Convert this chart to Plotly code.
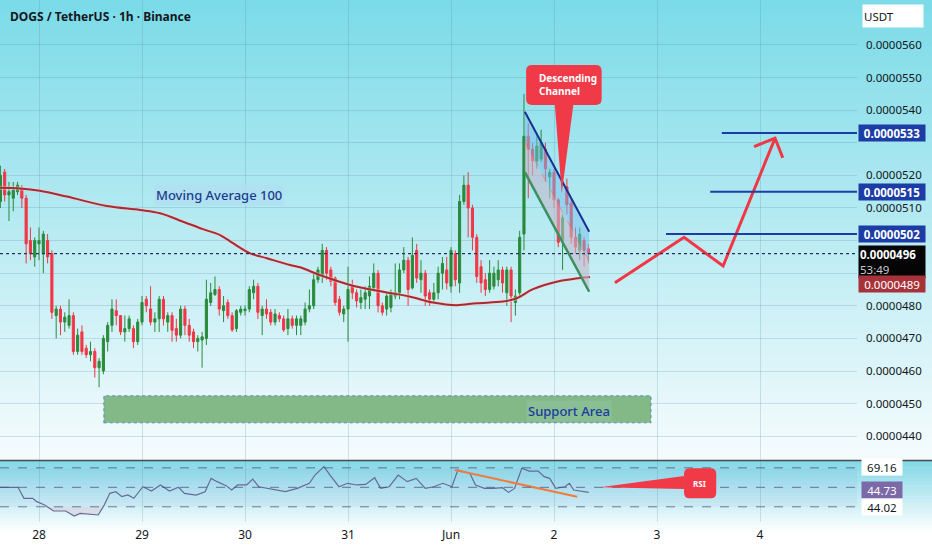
import plotly.graph_objects as go

# prices in units of 1e-7 USDT, one candle per hour, hour 0 = 28 May 00:00
candle_start_hour = -9
opens = [512, 521, 514, 513, 515, 516, 513, 500, 495, 499, 496, 500, 496, 477, 479, 475, 474, 477,
         466, 472, 467, 465, 466, 461, 460, 469, 474, 478.5, 477, 472, 473, 473, 469, 475, 482, 479,
         475, 476, 482, 475, 477, 473, 471, 479, 474, 472, 469, 469.5, 470, 481, 483.5, 485, 478.5, 481,
         477, 473, 478, 478.5, 479, 484, 486, 477, 479, 478, 475, 477, 476, 473, 476, 474,
         474, 475, 479, 480, 488, 489.5, 497, 491, 488.5, 482, 477.5, 479, 486, 484, 481, 482,
         483, 485.5, 490, 480, 479, 479.5, 483, 484, 491, 494, 485.5, 497, 488, 490, 484, 482,
         484, 490, 491, 486, 496, 487, 512, 517, 510, 501, 492, 488, 485, 486, 488, 491,
         484, 491, 481, 484, 502, 532, 528, 524.5, 525, 528, 519.5, 521, 512.5, 500, 516.5, 511.5,
         501, 497, 500, 497.5]
highs = [523, 522, 518, 518, 518, 517, 514, 504, 501, 504, 503, 502, 497, 480, 480, 478, 482, 478,
         473, 474, 468, 469, 467, 464, 471, 475, 482, 482, 477, 477, 477, 474, 476, 483, 483, 486,
         478, 483, 483, 478, 478, 476, 480, 480, 476, 473, 471, 472, 488, 487, 489, 486, 483, 482,
         478, 479, 480, 480, 486, 488, 487, 480, 482, 479, 479, 478, 477, 479, 477, 477,
         477, 481, 485, 490, 492, 499, 498, 492, 489, 483, 480, 492, 488, 485, 485, 486,
         489, 493, 491, 481, 484, 485, 493, 493, 498, 495, 501, 499, 494, 491, 485, 487,
         492, 495, 495, 498, 497, 514, 520, 521, 511, 502, 494, 490, 494, 492, 494, 492,
         492, 492, 485, 503, 545, 536, 530, 532, 534, 530, 522, 522, 513, 508, 519, 513,
         504, 504, 501, 499]
lows = [510, 512, 506, 509, 514, 510, 493, 494, 492, 494, 490, 493, 476, 470, 471, 472, 473, 465,
        465, 465, 464, 463, 458, 455, 459, 466, 472, 474, 471, 469, 472, 467, 468, 474, 478, 474,
        472, 472, 474, 472, 469, 469, 470, 471, 469, 467, 466, 461, 468, 480, 483, 477, 475, 476,
        472, 472, 477, 477, 478, 482, 476, 471, 476, 474, 474, 475, 472, 471, 473, 471,
        471, 474, 478, 479, 487, 487, 488, 486, 480, 477, 475, 469, 482, 479.5, 479, 479,
        479, 485, 478, 477, 477, 478, 482, 482, 490, 480, 485, 487, 484, 480, 480, 481,
        482, 485, 485, 484, 486, 484, 511, 501, 497, 487, 484, 483, 484, 485, 486, 484,
        480, 475, 477, 483, 497, 513, 520, 522, 524, 518, 513, 510, 498, 491, 508, 499,
        496, 494, 492, 493]
closes = [520, 514, 515, 515.5, 517, 513, 499, 496, 500, 500, 502, 495, 478, 479, 475, 476.5, 477, 466,
          471, 466, 465, 466, 461, 463, 470, 474, 479, 477, 472, 473, 476, 469, 475, 481, 480, 475,
          476, 482, 476, 477, 472.5, 471, 479, 474, 471, 469, 470, 470.5, 482, 484, 485, 479, 480, 477,
          472.6, 478.5, 479, 479, 485, 486, 478, 479, 477.5, 475, 477.5, 476, 472.6, 476, 474, 476,
          476, 479, 480, 488, 491, 497, 490, 487.5, 481, 478, 479, 485, 484, 481.5, 482.5, 484,
          486, 490, 480, 478, 483, 484, 484, 491, 494, 485, 495.5, 488.5, 490, 483, 482, 484,
          490, 493, 487, 497, 488, 512, 517, 510, 501, 489, 487, 485, 490, 490, 491, 487,
          491, 483, 483, 501, 532, 528, 524.5, 529, 530, 522, 521, 512.5, 499.5, 507, 511, 501,
          498, 502, 497, 496]
hours = list(range(candle_start_hour, candle_start_hour + len(closes)))

# moving average 100
ma_hours = [-9.1, -4.4, 0.2, 6.5, 15.8, 23.5, 28.2, 33.6, 38.2, 42.2, 45.2, 49.2, 53.1, 58.5, 60.8,
            65.5, 72.5, 80.2, 86.5, 91.8, 97.3, 102.0, 108.1, 111.3, 115.1, 120.6, 124.4, 128.4]
ma_values = [516.2, 516.0, 515.3, 513.5, 510.6, 509.4, 508.4, 505.8, 503.5, 501.7, 499.2, 496.1, 494.6,
             492.5, 491.8, 489.4, 486.4, 484.3, 482.8, 481.0, 480.2, 480.8, 481.3, 482.3, 485.1, 487.4,
             488.2, 488.8]

# RSI
rsi_hours = [-9.1, -4.9, -3.5, -1.5, -0.5, 1.3, 3.4, 6.2, 8.2, 9.6, 13.8, 15.2, 16.5, 17.9, 19.3, 20.7,
             22.1, 24.2, 26.2, 28.3, 30.4, 32.5, 33.9, 36.6, 38.7, 40.1, 41.5, 43.6, 44.9, 46.3, 48.4,
             49.8, 51.2, 53.2, 55.3, 57.4, 60.2, 63.0, 64.3, 66.4, 67.8, 69.9, 71.9, 74.0, 76.1, 78.2,
             79.6, 81.6, 83.7, 85.8, 87.9, 90.0, 92.0, 94.1, 96.2, 97.6, 99.0, 100.4, 101.7, 103.8,
             105.9, 108.0, 109.4, 110.8, 112.5, 114.2, 116.3, 117.7, 119.0, 120.4, 122.5, 123.6,
             124.6, 126.0, 128.1]
rsi_values = [50.0, 50.0, 38.7, 38.7, 35.3, 31.8, 25.7, 25.7, 20.6, 23.3, 21.6, 31.8, 43.8, 45.5, 40.4,
              42.1, 38.7, 50.6, 46.2, 52.3, 46.2, 50.0, 43.8, 42.1, 45.5, 59.2, 55.8, 51.7, 47.2, 52.4,
              52.4, 58.5, 50.6, 48.9, 47.2, 45.5, 48.9, 54.1, 62.6, 71.2, 62.6, 50.6, 54.1, 52.4, 53.0,
              59.9, 48.9, 50.6, 62.6, 55.8, 59.2, 48.9, 50.6, 54.1, 50.6, 67.7, 66.0, 64.3, 52.4, 48.9,
              48.9, 49.6, 44.8, 48.9, 69.5, 66.7, 66.7, 60.9, 59.2, 48.9, 50.6, 54.1, 47.2, 46.2, 44.8]
rsi_levels = [70, 50, 30]
rsi_div_hours = [96.9, 125.4]
rsi_div_values = [67.7, 40.4]

# axes
day_hours = [0, 24, 48, 72, 96, 120, 144, 168]
day_labels = ["28", "29", "30", "31", "Jun", "2", "3", "4"]
price_ticks = [440, 450, 460, 470, 480, 490, 500, 510, 520, 530, 540, 550, 560]
hidden_price_labels = [490, 500, 530]   # covered by the price tags on the scale

# drawings
channel_hours = [113.2, 128.2]
channel_top = [539.5, 502.7]
channel_bottom = [521.0, 484.3]
support_hours = [15.1, 142.6]
support_prices = [444.1, 452.4]
targets = [533, 515, 502]
target_start_hours = [159.1, 156.4, 146.1]
projection_hours = [134.2, 150.3, 159.4, 171.5]
projection_prices = [487.1, 501.0, 492.2, 531.4]
arrowhead_hours = [166.6, 171.5, 173.3]
arrowhead_prices = [528.8, 531.4, 525.4]
last_price = 496
ma_last = 489

X_RANGE = [-9.09, 190.6]
PLOT_H = 522
GREEN = "#2a8a3b"
RED = "#f23645"
BLUE = "#1c3ca6"
TXT = "#131722"


def py(y):
    return (PLOT_H - y) / PLOT_H


def mix(c1, c2, f):
    return "rgb(%d,%d,%d)" % tuple(round(a + (b - a) * f) for a, b in zip(c1, c2))


shapes = []


def gradient(y_top, y_bot, c_top, c_bot, n=40):
    for i in range(n):
        a = y_top + (y_bot - y_top) * i / n
        b = y_top + (y_bot - y_top) * (i + 1) / n + 0.6
        shapes.append(dict(type="rect", xref="paper", yref="paper", x0=-0.01, x1=1.1,
                           y0=py(b), y1=py(a), fillcolor=mix(c_top, c_bot, i / (n - 1)),
                           line=dict(width=0), layer="below"))


gradient(0, 460, (124, 219, 232), (244, 251, 253))
gradient(460, 532, (132, 216, 231), (252, 254, 255), 20)

# rsi band
shapes.append(dict(type="rect", xref="paper", yref="y2", x0=0, x1=1, y0=30, y1=70,
                   fillcolor="rgba(110,130,210,0.07)", line=dict(width=0), layer="below"))
for lv in rsi_levels:
    shapes.append(dict(type="line", xref="paper", yref="y2", x0=0, x1=1, y0=lv, y1=lv,
                       line=dict(color="rgba(70,80,120,0.75)", width=1, dash="dash")))

# pane separator
shapes.append(dict(type="line", xref="paper", yref="paper", x0=0, x1=1.1, y0=py(460.5), y1=py(460.5),
                   line=dict(color="#4a4a4a", width=1.6)))

# support area
shapes.append(dict(type="rect", xref="x", yref="y", x0=support_hours[0], x1=support_hours[1],
                   y0=support_prices[0], y1=support_prices[1], fillcolor="#82b987",
                   line=dict(color="rgba(60,110,200,0.7)", width=1, dash="dot")))

# current price dotted line
shapes.append(dict(type="line", xref="paper", yref="y", x0=0, x1=1, y0=last_price, y1=last_price,
                   line=dict(color="#27315a", width=1.2, dash="dot")))

# target levels
for lvl, h0 in zip(targets, target_start_hours):
    shapes.append(dict(type="line", xref="x", yref="y", x0=h0, x1=X_RANGE[1], y0=lvl, y1=lvl,
                       line=dict(color=BLUE, width=2)))


def rounded_callout(x0, x1, y0, y1, rx, ry, pointer):
    p = "M %f,%f L %f,%f Q %f,%f %f,%f L %f,%f Q %f,%f %f,%f " % (
        x0 + rx, y1, x1 - rx, y1, x1, y1, x1, y1 - ry, x1, y0 + ry, x1, y0, x1 - rx, y0)
    p += pointer
    p += "L %f,%f Q %f,%f %f,%f L %f,%f Q %f,%f %f,%f Z" % (
        x0 + rx, y0, x0, y0, x0, y0 + ry, x0, y1 - ry, x0, y1, x0 + rx, y1)
    return p


# "Descending Channel" callout (box with pointer down)
dc = rounded_callout(113.5, 131.1, 541.6, 553.9, 1.4, 1.8,
                     "L 124.5,541.6 L 121.8,514.5 L 120.2,541.6 ")
shapes.append(dict(type="path", xref="x", yref="y", path=dc, fillcolor="#f03a48",
                   line=dict(width=0)))
# RSI callout (box with pointer to the left)
rc = "M 130.7,50 L 150.3,61.6 L 150.3,48.3 Z"
shapes.append(dict(type="path", xref="x", yref="y2", path=rc, fillcolor="#f03a48", line=dict(width=0)))
rb = rounded_callout(150.3, 157.8, 38.7, 69.5, 1.3, 6.0, "")
shapes.append(dict(type="path", xref="x", yref="y2", path=rb, fillcolor="#f03a48", line=dict(width=0)))

fig = go.Figure()

# moving average
fig.add_trace(go.Scatter(x=ma_hours, y=ma_values, mode="lines", line=dict(color="rgba(255,205,205,0.45)",
                                                                          width=4, shape="spline"),
                         hoverinfo="skip"))
fig.add_trace(go.Scatter(x=ma_hours, y=ma_values, mode="lines", line=dict(color="#a82a32", width=2,
                                                                          shape="spline")))

fig.add_trace(go.Candlestick(x=hours, open=opens, high=highs, low=lows, close=closes,
                             increasing=dict(line=dict(color=GREEN, width=1), fillcolor=GREEN),
                             decreasing=dict(line=dict(color=RED, width=1), fillcolor=RED),
                             whiskerwidth=0))

# channel fill (upper half blue, lower half grey)
mid = [(a + b) / 2 for a, b in zip(channel_top, channel_bottom)]
fig.add_trace(go.Scatter(x=channel_hours + channel_hours[::-1], y=channel_top + mid[::-1], fill="toself",
                         fillcolor="rgba(120,190,235,0.5)", line=dict(width=0), mode="lines"))
fig.add_trace(go.Scatter(x=channel_hours + channel_hours[::-1], y=mid + channel_bottom[::-1], fill="toself",
                         fillcolor="rgba(195,185,205,0.6)", line=dict(width=0), mode="lines"))
fig.add_trace(go.Scatter(x=channel_hours, y=mid, mode="lines",
                         line=dict(color="rgba(240,110,90,0.6)", width=1, dash="dash")))
fig.add_trace(go.Scatter(x=channel_hours, y=channel_top, mode="lines", line=dict(color="#18308f", width=2)))
fig.add_trace(go.Scatter(x=channel_hours, y=channel_bottom, mode="lines", line=dict(color="#3f8f5e", width=2.5)))

# projection arrow
fig.add_trace(go.Scatter(x=projection_hours, y=projection_prices, mode="lines",
                         line=dict(color="#f23645", width=3)))
fig.add_trace(go.Scatter(x=arrowhead_hours, y=arrowhead_prices, mode="lines",
                         line=dict(color="#f23645", width=3)))

# RSI pane
fig.add_trace(go.Scatter(x=rsi_hours, y=[30] * len(rsi_hours), yaxis="y2", mode="lines",
                         line=dict(width=0), hoverinfo="skip"))
fig.add_trace(go.Scatter(x=rsi_hours, y=[min(v, 30) for v in rsi_values], yaxis="y2", mode="lines",
                         line=dict(width=0), fill="tonexty", fillcolor="rgba(215,215,225,0.8)"))
fig.add_trace(go.Scatter(x=rsi_hours, y=rsi_values, yaxis="y2", mode="lines",
                         line=dict(color="#676a96", width=1.2)))
fig.add_trace(go.Scatter(x=rsi_div_hours, y=rsi_div_values, yaxis="y2", mode="lines",
                         line=dict(color="#f07b3f", width=2)))

annotations = [
    dict(xref="paper", yref="paper", x=0.009, y=py(16), xanchor="left", yanchor="middle",
         text="<b>DOGS / TetherUS · 1h · Binance</b>", showarrow=False,
         font=dict(family="Noto Sans", size=12, color=TXT)),
    dict(xref="x", yref="y", x=42.05, y=514.0, text="Moving Average 100", showarrow=False,
         font=dict(family="Noto Sans", size=13, color="#1d3b8e", weight=500),
         bgcolor="rgba(176,222,240,0.8)", borderpad=1),
    dict(xref="x", yref="y", x=123.5, y=447.6, text="Support Area", showarrow=False,
         font=dict(family="Noto Sans", size=13, color="#1a3aa0", weight=500),
         bgcolor="rgba(140,192,150,0.8)", borderpad=1),
    dict(xref="x", yref="y", x=116.0, y=547.8, xanchor="left", text="<b>Descending<br>Channel</b>",
         showarrow=False, align="left", font=dict(family="Noto Sans", size=10, color="white")),
    dict(xref="x", yref="y2", x=154.0, y=54.0, text="<b>RSI</b>", showarrow=False,
         font=dict(family="Noto Sans", size=8, color="white")),
    dict(xref="paper", yref="paper", x=1, xshift=5, y=py(15.5), xanchor="left", yanchor="middle",
         text="USDT", showarrow=False, bgcolor="white", width=58, height=20, align="left",
         font=dict(family="Noto Sans", size=11.5, color=TXT)),
]

for lvl in targets:
    annotations.append(dict(xref="paper", yref="y", x=1, xshift=1, y=lvl, xanchor="left",
                            yanchor="middle", text="<b>%.7f</b>" % (lvl / 1e7), showarrow=False,
                            bgcolor=BLUE, width=64, height=14, font=dict(family="Noto Sans", size=11.5,
                                                                          color="white")))
annotations.append(dict(xref="paper", yref="y", x=1, xshift=1, y=last_price, yshift=9, xanchor="left",
                        yanchor="top", text="<b>%.7f</b><br><span style='color:#c8cad2'>53:49</span>"
                        % (last_price / 1e7), showarrow=False, bgcolor="#050505", width=64,
                        align="left", font=dict(family="Noto Sans", size=11.5, color="white")))
annotations.append(dict(xref="paper", yref="y", x=1, xshift=1, y=486.7, xanchor="left",
                        yanchor="middle", text="%.7f" % (ma_last / 1e7), showarrow=False,
                        bgcolor="#a8323a", width=64, height=14,
                        font=dict(family="Noto Sans", size=11.5, color="white")))
for txt, val, bg, fg in [("69.16", 70.5, "white", TXT), ("44.73", 47.7, "#7b69a8", "white"),
                         ("44.02", 29.3, "white", TXT)]:
    annotations.append(dict(xref="paper", yref="y2", x=1, xshift=4, y=val, xanchor="left",
                            yanchor="middle", text=txt, showarrow=False, bgcolor=bg, width=38,
                            height=14, font=dict(family="Noto Sans", size=11.5, color=fg)))

GRID = "rgba(80,130,150,0.22)"
fig.update_layout(
    width=932, height=550,
    margin=dict(l=0, r=75, t=0, b=28),
    paper_bgcolor="white", plot_bgcolor="rgba(0,0,0,0)",
    showlegend=False,
    shapes=shapes, annotations=annotations,
    xaxis=dict(range=X_RANGE, tickvals=day_hours, ticktext=day_labels, showgrid=True, gridcolor=GRID,
               zeroline=False, showline=False, anchor="y2", rangeslider=dict(visible=False),
               ticklabelstandoff=4, tickfont=dict(family="Noto Sans", size=12, color=TXT)),
    yaxis=dict(domain=[(PLOT_H - 460) / PLOT_H, 1], range=[432.7, 573.8], side="right",
               tickvals=price_ticks,
               ticktext=["" if v in hidden_price_labels else "%.7f" % (v / 1e7) for v in price_ticks],
               showgrid=True, gridcolor=GRID, zeroline=False, ticklabelstandoff=8,
               tickfont=dict(family="Noto Sans", size=11.5, color=TXT)),
    yaxis2=dict(domain=[0, 61 / PLOT_H], range=[14.4, 77.0], showticklabels=False, showgrid=False,
                zeroline=False),
)

fig.write_html("out.html", config=dict(displayModeBar=False),
               post_script="document.body.style.margin='0';")
